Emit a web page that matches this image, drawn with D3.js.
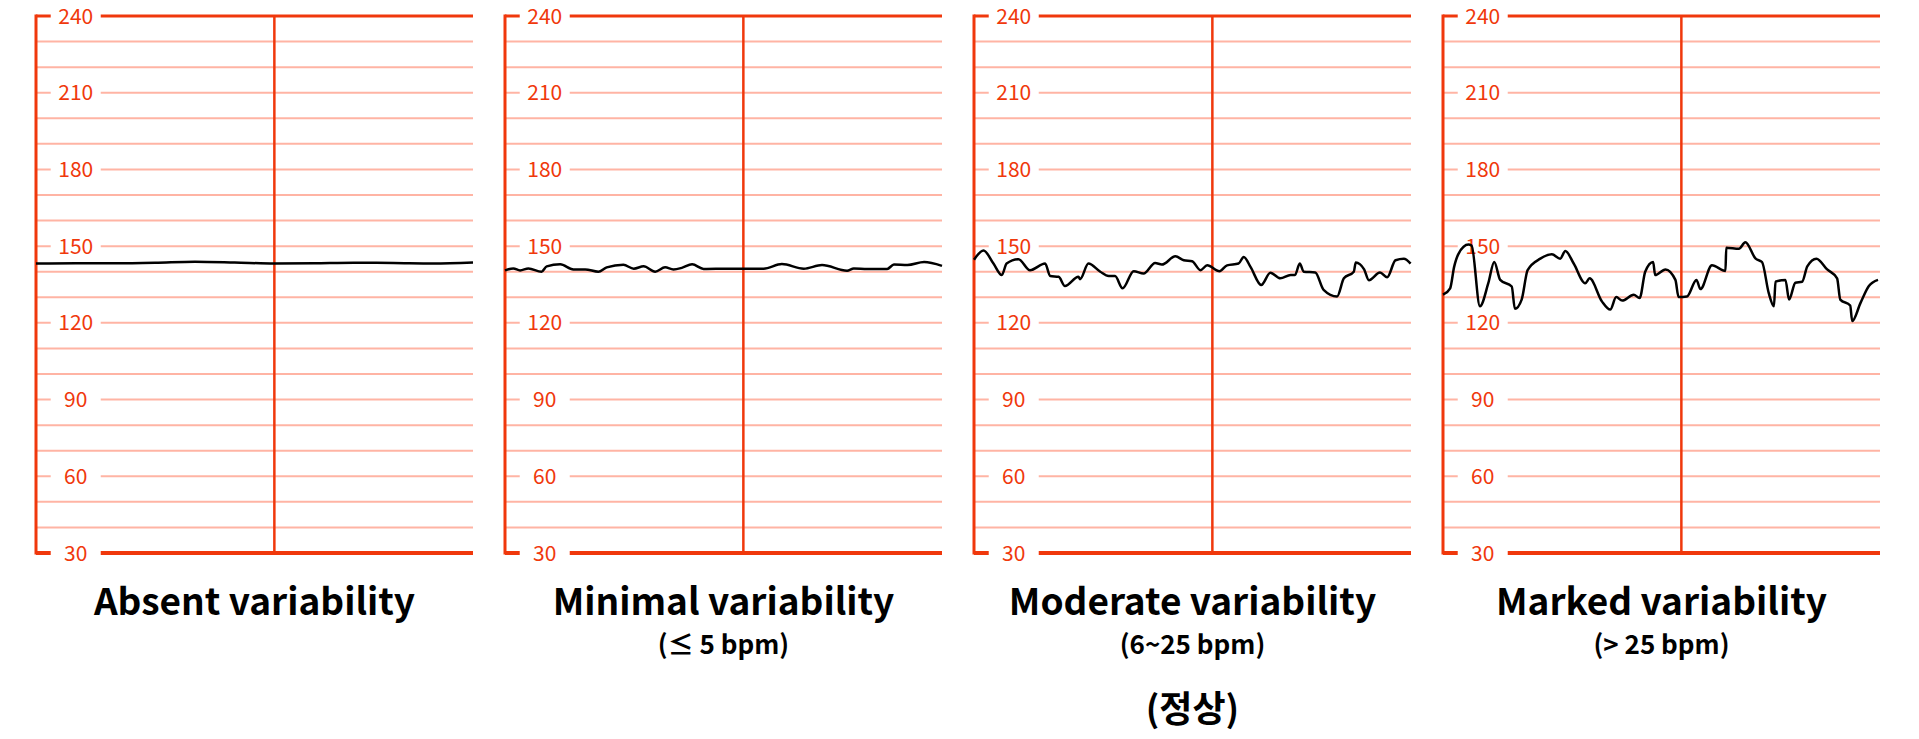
<!DOCTYPE html>
<html>
<head>
<meta charset="utf-8">
<script src="https://cdn.jsdelivr.net/npm/d3@7"></script>
<style>
  body { margin:0; background:#fff; }
  text { font-family: "Noto Sans CJK KR", "Noto Sans", sans-serif; }
</style>
</head>
<body>
<svg id="vis" width="1919" height="739"></svg>
<script>
/**
 * Chart values
 */
var titles = ["Absent variability", "Minimal variability", "Moderate variability", "Marked variability"];
var subtitles = ["", "(\u2264 5 bpm)", "(6~25 bpm)", "(> 25 bpm)"];
var notes = ["", "", "(정상)", ""];
var yTicks = [30, 60, 90, 120, 150, 180, 210, 240];

// [time (grid cells), bpm]
var absentData = [[0,143.2],[1,143.3],[2,143.3],[3,143.5],[4,143.9],[5,143.6],[6,143.2],[7,143.3],[8,143.5],[9,143.4],[10,143.2],[11,143.6]];
var minimalData = [[0,140.5],[0.21,141.3],[0.38,140.5],[0.59,141.3],[0.92,140.0],[1.05,142.1],[1.39,142.9],[1.72,140.9],[2.02,140.9],[2.35,140.0],[2.56,141.7],[2.98,142.7],[3.24,141.2],[3.49,142.1],[3.78,140.0],[4.03,141.7],[4.24,140.9],[4.45,141.5],[4.71,142.9],[5.0,141.1],[5.76,141.2],[6.51,141.2],[6.97,143.0],[7.52,141.2],[7.98,142.6],[8.61,140.4],[8.78,141.3],[9.12,141.1],[9.62,141.1],[9.79,142.8],[10.13,142.6],[10.55,143.8],[11.0,142.3]];
var moderateData = [[0,144.7],[0.24,148.3],[0.49,143.2],[0.70,138.7],[0.82,143.2],[1.12,144.9],[1.41,140.6],[1.79,143.2],[1.92,138.3],[2.13,138.0],[2.29,134.4],[2.63,138.0],[2.67,137.1],[2.88,143.2],[3.18,140.0],[3.39,138.3],[3.55,138.3],[3.74,133.5],[4.02,140.2],[4.27,139.3],[4.56,143.4],[4.73,142.8],[5.07,146.0],[5.28,144.5],[5.49,144.1],[5.70,140.6],[5.87,142.5],[6.18,140.2],[6.37,142.5],[6.66,143.2],[6.79,145.8],[6.96,141.9],[7.23,134.8],[7.46,139.6],[7.71,137.4],[7.97,138.7],[8.08,138.7],[8.20,143.2],[8.30,140.0],[8.59,139.7],[8.80,132.9],[9.14,130.3],[9.31,137.4],[9.56,140.0],[9.61,143.6],[9.82,140.9],[9.94,136.7],[10.22,139.7],[10.40,137.8],[10.61,144.5],[10.82,145.1],[10.99,143.2]];
var markedData = [[0,131.0],[0.18,133.5],[0.28,141.9],[0.39,147.0],[0.64,150.6],[0.72,150.2],[0.93,126.5],[1.14,135.5],[1.29,143.8],[1.44,136.8],[1.73,134.2],[1.81,125.5],[1.98,129.1],[2.13,140.6],[2.45,145.1],[2.74,146.8],[2.95,145.1],[3.08,148.1],[3.29,143.2],[3.58,135.5],[3.69,137.4],[4.0,128.4],[4.21,125.2],[4.36,130.1],[4.51,128.7],[4.80,131.0],[4.95,129.7],[5.09,140.0],[5.29,143.8],[5.34,138.7],[5.60,140.9],[5.85,136.8],[5.93,130.1],[6.14,130.3],[6.38,136.8],[6.48,133.2],[6.77,142.5],[7.11,140.3],[7.13,149.4],[7.45,149.0],[7.61,151.5],[7.87,145.1],[8.03,143.8],[8.20,131.6],[8.33,126.5],[8.37,136.1],[8.62,136.8],[8.71,129.1],[8.87,135.7],[9.04,136.1],[9.17,142.1],[9.40,145.1],[9.67,140.9],[9.92,137.4],[10.0,129.1],[10.25,126.8],[10.30,120.7],[10.51,127.8],[10.72,134.4],[10.95,136.8]];

var series = [absentData, minimalData, moderateData, markedData];

const MAJOR = "#f0380c";
const MINOR = "#ffb4a4";
const PANEL = { left:36, step:469, width:437, top:16, bottom:553 };

var svg = d3.select("#vis");

var xScale = d3.scaleLinear().domain([0, 11]).range([0, PANEL.width]);
var yScale = d3.scaleLinear().domain([30, 240]).range([PANEL.bottom, PANEL.top]);

series.forEach(function(data, i){
    var g = svg.append("g").attr("transform", `translate(${PANEL.left + i*PANEL.step},0)`);

    // minor grid
    g.selectAll("line.h").data(d3.range(40, 240, 10)).enter().append("line")
        .attr("x1", 0).attr("x2", PANEL.width)
        .attr("y1", d => yScale(d)).attr("y2", d => yScale(d))
        .attr("stroke", MINOR).attr("stroke-width", 2);
    g.selectAll("line.v").data(d3.range(1, 12)).filter(d => d !== 6).enter().append("line")
        .attr("x1", d => xScale(d)).attr("x2", d => xScale(d))
        .attr("y1", PANEL.top).attr("y2", PANEL.bottom)
        .attr("stroke", MINOR).attr("stroke-width", 2);

    // major lines
    g.append("line").attr("x1", xScale(6)).attr("x2", xScale(6))
        .attr("y1", PANEL.top).attr("y2", PANEL.bottom)
        .attr("stroke", MAJOR).attr("stroke-width", 2.5);
    g.append("line").attr("x1", 0).attr("x2", 0)
        .attr("y1", PANEL.top - 1.5).attr("y2", PANEL.bottom + 1.5)
        .attr("stroke", MAJOR).attr("stroke-width", 3);
    g.append("line").attr("x1", 0).attr("x2", PANEL.width)
        .attr("y1", yScale(240)).attr("y2", yScale(240))
        .attr("stroke", MAJOR).attr("stroke-width", 3);
    g.append("line").attr("x1", 0).attr("x2", PANEL.width)
        .attr("y1", yScale(30)).attr("y2", yScale(30))
        .attr("stroke", MAJOR).attr("stroke-width", 4);

    // tick labels with white backing
    var lab = g.selectAll("g.tick").data(yTicks).enter().append("g")
        .attr("transform", d => `translate(${xScale(1)},${yScale(d)})`);
    lab.append("rect").attr("x", -25).attr("y", -13).attr("width", 50).attr("height", 26).attr("fill", "#fff");
    lab.append("text").attr("text-anchor", "middle").attr("dy", "0.36em")
        .attr("font-size", 21).attr("fill", MAJOR).text(d => d);

    // trace
    var line = d3.line().x(d => xScale(d[0])).y(d => yScale(d[1])).curve(d3.curveMonotoneX);
    g.append("path").datum(data).attr("d", line)
        .attr("fill", "none").attr("stroke", "#000").attr("stroke-width", 2.5)
        .attr("stroke-linejoin", "round");

    // titles
    var cx = PANEL.width/2;
    g.append("text").attr("x", cx).attr("y", 615).attr("text-anchor", "middle")
        .attr("font-size", 37).attr("font-weight", "bold").text(titles[i]);
    if (subtitles[i]) g.append("text").attr("x", cx).attr("y", 654).attr("text-anchor", "middle")
        .attr("font-size", 26).attr("font-weight", "bold").text(subtitles[i]);
    if (notes[i]) g.append("text").attr("x", cx).attr("y", 722).attr("text-anchor", "middle")
        .attr("font-size", 36).attr("font-weight", "bold").text(notes[i]);
});
</script>
</body>
</html>
